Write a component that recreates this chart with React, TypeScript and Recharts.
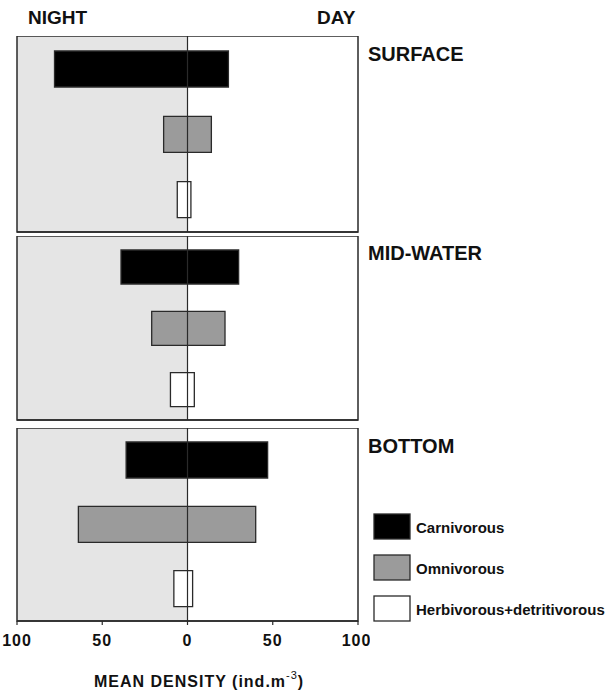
import React from 'react';
import { BarChart, Bar, XAxis, YAxis, Cell, ReferenceArea, ReferenceLine } from 'recharts';

const groups = ['Carnivorous', 'Omnivorous', 'Herbivorous+detritivorous'];
const groupFills = ['#000000', '#9b9b9b', '#ffffff'];

const surfaceNight = [78, 14, 6];
const surfaceDay = [24, 14, 2];
const midNight = [39, 21, 10];
const midDay = [30, 22, 4];
const bottomNight = [36, 64, 8];
const bottomDay = [47, 40, 3];

const xTicks = [-100, -50, 0, 50, 100];
const panelTitles = ['SURFACE', 'MID-WATER', 'BOTTOM'];

const FONT = '"Liberation Sans", Arial, Helvetica, sans-serif';
const INK = '#2a2a2a';

type PanelProps = {
  night: number[];
  day: number[];
  top: number;
  plotHeight: number;
  barSize: number;
  showLabels: boolean;
};

function Panel({ night, day, top, plotHeight, barSize, showLabels }: PanelProps) {
  const data = groups.map((g, i) => ({ group: g, night: night[i], day: day[i] }));
  const axisH = showLabels ? 38 : 6;
  return (
    <div style={{ position: 'absolute', left: 0, top }}>
      <BarChart
        width={370}
        height={plotHeight + axisH}
        data={data}
        layout="vertical"
        margin={{ top: 0, right: 12, bottom: 0, left: 17 }}
      >
        <ReferenceArea x1={-100} x2={0} fill="#e5e5e5" fillOpacity={1} stroke="none" ifOverflow="visible" />
        <XAxis
          type="number"
          domain={[-100, 100]}
          ticks={xTicks}
          height={axisH}
          tickSize={4}
          tickMargin={10}
          axisLine={{ stroke: INK, strokeWidth: 1.5 }}
          tickLine={{ stroke: INK, strokeWidth: 1.2 }}
          tick={showLabels ? { fill: '#111', fontSize: 16, fontWeight: 700, fontFamily: FONT, letterSpacing: 1 } : false}
          tickFormatter={(v: number) => String(Math.abs(v))}
        />
        <YAxis type="category" dataKey="group" hide />
        <Bar
          dataKey={(d: any) => [-d.night, d.day]}
          barSize={barSize}
          stroke={INK}
          strokeWidth={1.3}
          isAnimationActive={false}
        >
          {data.map((_, i) => (
            <Cell key={i} fill={groupFills[i]} />
          ))}
        </Bar>
        <ReferenceLine x={0} stroke={INK} strokeWidth={1.2} />
        <ReferenceArea x1={-100} x2={100} fill="none" stroke={INK} strokeWidth={1.5} ifOverflow="visible" />
      </BarChart>
    </div>
  );
}

export default function App() {
  const textStyle = { fontFamily: FONT, fontWeight: 700, fill: '#111' } as const;
  return (
    <div style={{ position: 'absolute', left: 0, top: 0, width: 608, height: 691, background: '#fff', overflow: 'hidden' }}>
      <Panel night={surfaceNight} day={surfaceDay} top={36} plotHeight={196} barSize={36} showLabels={false} />
      <Panel night={midNight} day={midDay} top={236} plotHeight={184} barSize={34} showLabels={false} />
      <Panel night={bottomNight} day={bottomDay} top={428} plotHeight={193} barSize={36} showLabels={true} />
      <svg width={608} height={691} style={{ position: 'absolute', left: 0, top: 0, pointerEvents: 'none' }}>
        <text x={28} y={17} dominantBaseline="central" fontSize={19} {...textStyle}>NIGHT</text>
        <text x={317} y={17} dominantBaseline="central" fontSize={19} {...textStyle}>DAY</text>
        <text x={368} y={54} dominantBaseline="central" fontSize={20} {...textStyle}>{panelTitles[0]}</text>
        <text x={368} y={253} dominantBaseline="central" fontSize={20} {...textStyle}>{panelTitles[1]}</text>
        <text x={368} y={446} dominantBaseline="central" fontSize={20} {...textStyle}>{panelTitles[2]}</text>
        {groups.map((g, i) => (
          <g key={g}>
            <rect x={374} y={514 + i * 41} width={36} height={25} fill={groupFills[i]} stroke={INK} strokeWidth={1.3} />
            <text x={416} y={527 + i * 41} dominantBaseline="central" fontSize={15} {...textStyle}>{g}</text>
          </g>
        ))}
        <text x={94} y={681} dominantBaseline="central" fontSize={16} letterSpacing={1} {...textStyle}>
          MEAN DENSITY (ind.m
          <tspan dy={-6} fontSize={11} fontWeight={400}>-3</tspan>
          <tspan dy={6}>)</tspan>
        </text>
      </svg>
    </div>
  );
}
